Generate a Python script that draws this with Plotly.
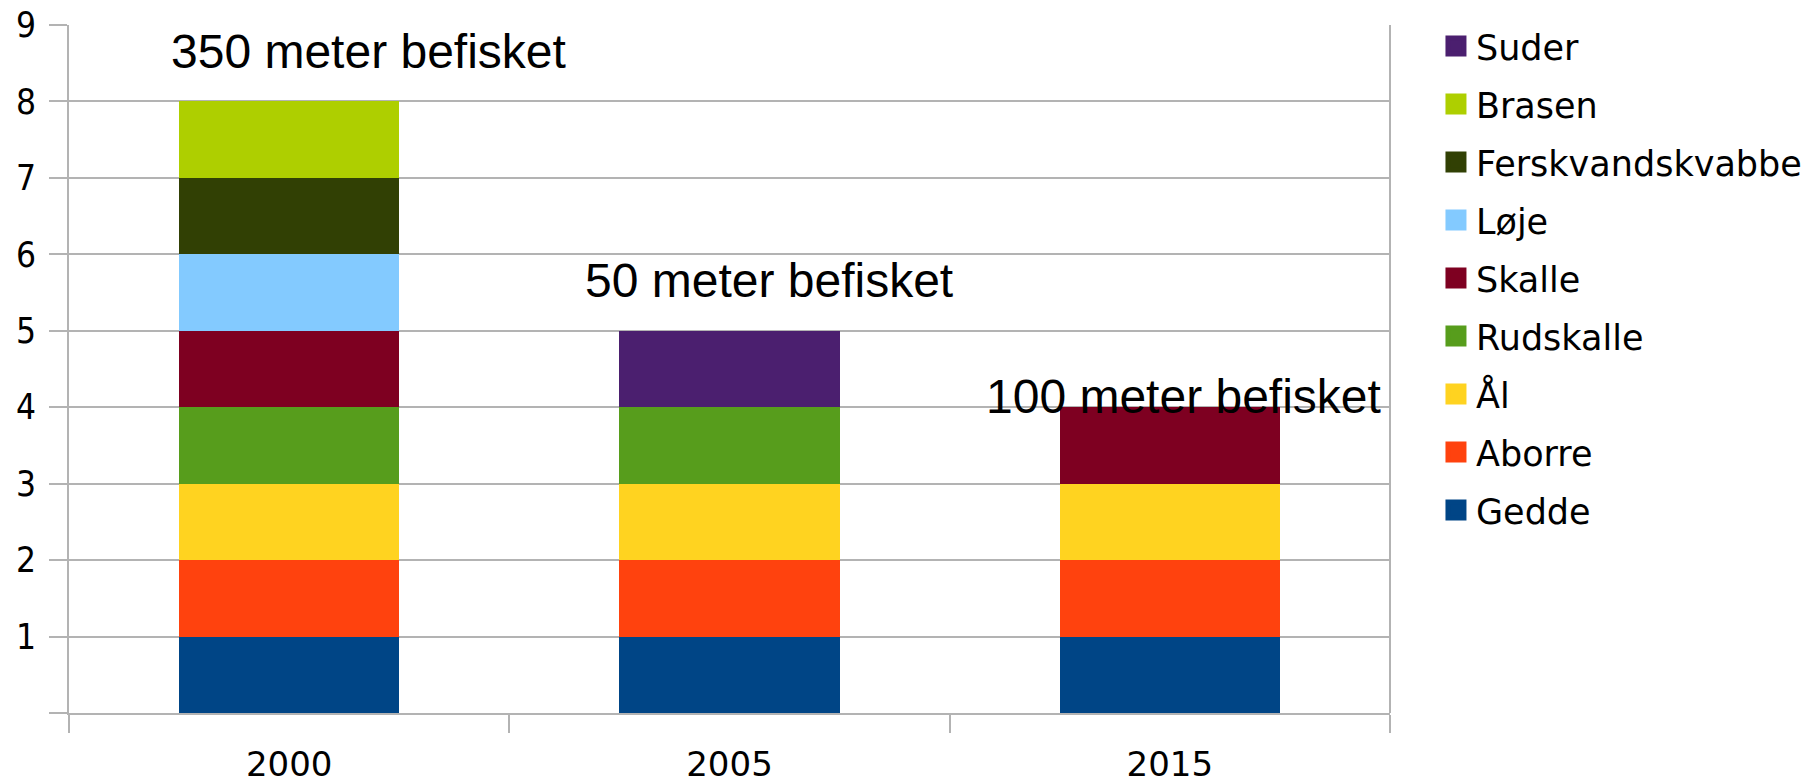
import plotly.graph_objects as go

years = ["2000", "2005", "2015"]
species = ["Gedde", "Aborre", "Ål", "Rudskalle", "Skalle", "Løje",
           "Ferskvandskvabbe", "Brasen", "Suder"]
colors = ["#004586", "#ff420e", "#ffd320", "#579d1c", "#7e0021", "#83caff",
          "#314004", "#aecf00", "#4b1f6f"]
values = {
    "Gedde":            [1, 1, 1],
    "Aborre":           [1, 1, 1],
    "Ål":               [1, 1, 1],
    "Rudskalle":        [1, 1, 0],
    "Skalle":           [1, 0, 1],
    "Løje":             [1, 0, 0],
    "Ferskvandskvabbe": [1, 0, 0],
    "Brasen":           [1, 0, 0],
    "Suder":            [0, 1, 0],
}
notes = ["350 meter befisket", "50 meter befisket", "100 meter befisket"]
note_x = [0.18, 1.089, 2.03]
note_y = [8.65, 5.66, 4.14]
y_ticks = [0, 1, 2, 3, 4, 5, 6, 7, 8, 9]
y_labels = ["", "1", "2", "3", "4", "5", "6", "7", "8", "9"]

fig = go.Figure()
for name, col in zip(species, colors):
    fig.add_trace(go.Bar(
        x=years, y=values[name], name=name, marker=dict(color=col, line=dict(width=0)),
        showlegend=False, legendgroup=name,
    ))
# legend entries, top to bottom as in the reference
for name, col in reversed(list(zip(species, colors))):
    fig.add_trace(go.Scatter(
        x=[None], y=[None], mode="markers", name=name, legendgroup=name,
        marker=dict(symbol="square", size=16, color=col, line=dict(color=col, width=5)),
    ))

for t, xx, yy in zip(notes, note_x, note_y):
    fig.add_annotation(x=xx, y=yy, xref="x", yref="y", text=t, showarrow=False,
                       font=dict(family="Liberation Sans, Arial", size=48, color="black"),
                       xanchor="center", yanchor="middle")

grid = "#b3b3b3"
fig.update_layout(
    width=1816, height=782,
    margin=dict(l=61, r=434, t=17, b=77, autoexpand=False),
    barmode="stack", bargap=0.5,
    plot_bgcolor="white", paper_bgcolor="white",
    font=dict(family="DejaVu Sans", size=34, color="black"),
    legend=dict(x=1.0348, y=1.012, xanchor="left", yanchor="top",
                traceorder="grouped", tracegroupgap=9.5, maxheight=740,
                font=dict(family="DejaVu Sans", size=35, color="black")),
    xaxis=dict(type="category", range=[-0.5, 2.5], tickson="boundaries",
               ticks="outside", ticklen=18, tickcolor=grid, tickwidth=2,
               showgrid=False, showline=True, linecolor=grid, linewidth=2,
               mirror=False, zeroline=False, automargin=False, ticklabelstandoff=20,
               ticklabeloverflow="allow",
               tickfont=dict(family="DejaVu Sans", size=34)),
    yaxis=dict(range=[0, 9], tickmode="array", tickvals=y_ticks, ticktext=y_labels,
               ticks="outside", ticklen=18, tickcolor=grid, tickwidth=2,
               showgrid=True, gridcolor=grid, gridwidth=2,
               showline=True, linecolor=grid, linewidth=2, zeroline=False,
               automargin=False, ticklabelstandoff=6, ticklabeloverflow="allow",
               tickfont=dict(family="DejaVu Sans Condensed, DejaVu Sans", size=35)),
)
fig.add_shape(type="line", xref="paper", yref="paper", x0=1, x1=1, y0=0, y1=1,
              line=dict(color=grid, width=2))
fig.write_html("out.html")
